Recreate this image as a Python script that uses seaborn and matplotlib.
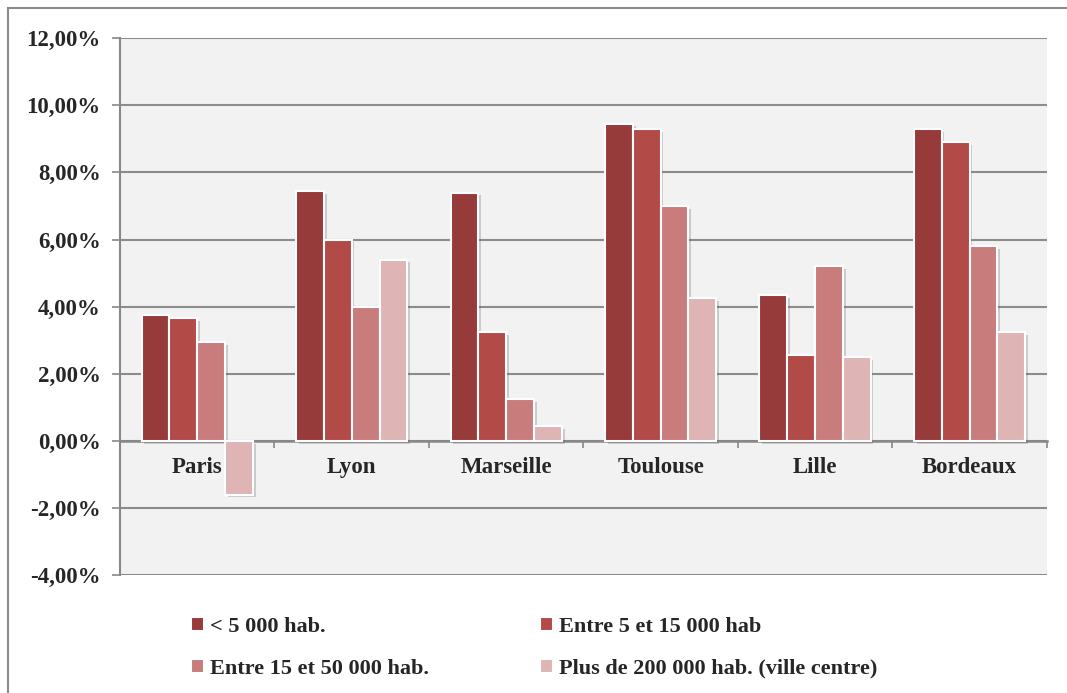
import pandas as pd
import numpy as np
import matplotlib
matplotlib.use('Agg')
import matplotlib.pyplot as plt
import matplotlib.patheffects as pe
from matplotlib.patches import Rectangle
from matplotlib.ticker import FuncFormatter
import seaborn as sns

# ── Data ──────────────────────────────────────────────
villes = ['Paris', 'Lyon', 'Marseille', 'Toulouse', 'Lille', 'Bordeaux']
series = ['< 5 000 hab.', 'Entre 5 et 15 000 hab',
          'Entre 15 et 50 000 hab.', 'Plus de 200 000 hab. (ville centre)']
moins_5000    = [3.75, 7.45, 7.40, 9.45, 4.35, 9.30]
entre_5_15    = [3.65, 6.00, 3.25, 9.30, 2.55, 8.90]
entre_15_50   = [2.95, 4.00, 1.25, 7.00, 5.20, 5.80]
plus_200000   = [-1.60, 5.40, 0.45, 4.25, 2.50, 3.25]

df = pd.DataFrame({
    'Ville': villes * 4,
    'Série': np.repeat(series, len(villes)),
    'Valeur': moins_5000 + entre_5_15 + entre_15_50 + plus_200000,
})

palette = ['#963a3a', '#b24a48', '#c97c7c', '#dfb4b4']

sns.set_theme(style='white')
plt.rcParams['font.family'] = ['Liberation Serif', 'DejaVu Serif']
plt.rcParams['font.weight'] = 'bold'

fig = plt.figure(figsize=(10.67, 6.93), dpi=100)
ax = fig.add_axes([0.1125, 0.170, 0.8685, 0.775])
ax.set_facecolor('#f2f2f2')

sns.barplot(data=df, x='Ville', y='Valeur', hue='Série', palette=palette,
            saturation=1, width=0.72, edgecolor='white', linewidth=1.5,
            ax=ax, zorder=3)

ax.set_ylim(-4, 12)
ax.set_xlim(-0.5, 5.5)
ax.set_yticks(np.arange(-4, 13, 2))
ax.yaxis.set_major_formatter(FuncFormatter(lambda v, _: f'{v:.2f}%'.replace('.', ',')))
ax.tick_params(axis='y', labelsize=16.5, length=6, color='#888888', width=1.2,
               left=True, pad=8)
for lbl in ax.get_yticklabels():
    lbl.set_fontweight('bold')
ax.grid(axis='y', color='#8c8c8c', linewidth=1.5, zorder=0)

# x axis on the zero line, ticks at group boundaries
ax.spines['bottom'].set_position(('data', 0))
ax.spines['bottom'].set_color('#888888')
ax.spines['bottom'].set_linewidth(1.8)
ax.spines['left'].set_color('#888888')
ax.spines['left'].set_linewidth(1.5)
ax.spines['top'].set_visible(False)
ax.spines['right'].set_visible(False)
ax.set_xticks(np.arange(-0.5, 6, 1))
ax.set_xticklabels([])
ax.tick_params(axis='x', bottom=True, length=5, color='#888888', width=1.2)
for i, v in enumerate(villes):
    ax.text(i, -0.8, v, ha='center', va='center', fontsize=16.5,
            fontweight='bold', zorder=5)

ax.set_xlabel('')
ax.set_ylabel('')

# legend filled row by row
handles, labels = ax.get_legend_handles_labels()
order = [0, 2, 1, 3]
ax.legend([handles[i] for i in order], [labels[i] for i in order],
          loc='upper left', bbox_to_anchor=(0.055, -0.04),
          ncol=2, frameon=False, handlelength=0.6,
          handleheight=0.6, handletextpad=0.25, columnspacing=5.0,
          labelspacing=1.0, prop={'weight': 'bold', 'size': 16})

# bar shadows (after the legend so its keys stay flat)
for p in ax.patches:
    p.set_path_effects([pe.SimplePatchShadow(offset=(2, -2), alpha=0.25,
                                             shadow_rgbFace='#555555'),
                        pe.Normal()])

# outer chart border
fig.patches.append(Rectangle((8 / 1067, -0.1), 1.2, 1 - 8 / 693 + 0.1,
                             transform=fig.transFigure, fill=False,
                             edgecolor='#8c8c8c', linewidth=1.5))

fig.savefig('out.png', dpi=100)
